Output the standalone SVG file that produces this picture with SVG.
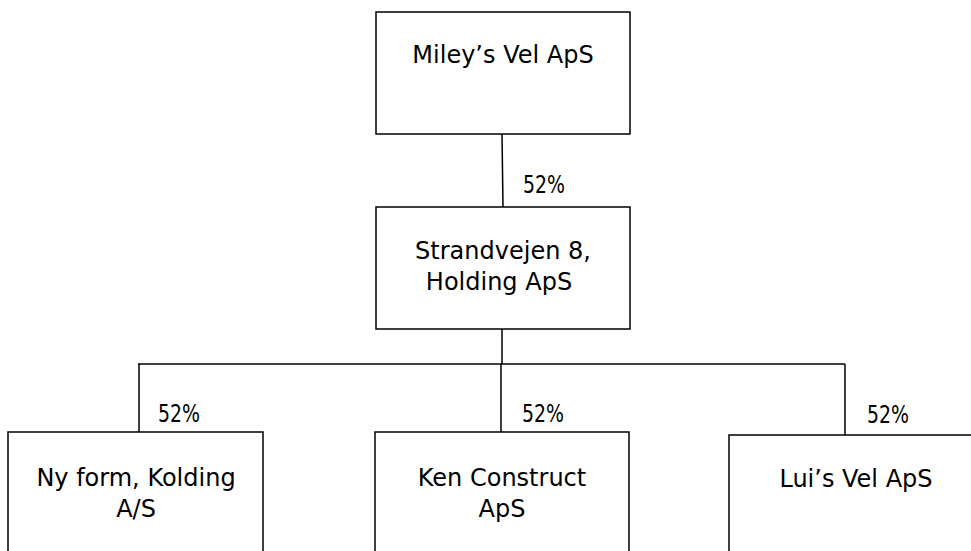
<svg xmlns="http://www.w3.org/2000/svg" width="971" height="551" viewBox="0 0 971 551">
<style>
.box{fill:#fff;stroke:#000;stroke-width:1.5}
.ln{fill:none;stroke:#000;stroke-width:1.5}
text{font-family:"DejaVu Sans","Liberation Sans",sans-serif;font-size:24px;fill:#000}
.c{text-anchor:middle}
</style>
<rect width="971" height="551" fill="#fff"/>
<g id="connectors">
<line class="ln" x1="502" y1="134" x2="503" y2="207"/>
<line class="ln" x1="502" y1="329" x2="502" y2="364"/>
<line class="ln" x1="138" y1="364" x2="845" y2="364"/>
<line class="ln" x1="139" y1="364" x2="139" y2="432"/>
<line class="ln" x1="501" y1="364" x2="501" y2="432"/>
<line class="ln" x1="845" y1="364" x2="845" y2="435"/>
<text x="523" y="193" textLength="42" lengthAdjust="spacingAndGlyphs">52%</text>
<text x="158" y="422" textLength="42" lengthAdjust="spacingAndGlyphs">52%</text>
<text x="522" y="422" textLength="42" lengthAdjust="spacingAndGlyphs">52%</text>
<text x="867" y="423" textLength="42" lengthAdjust="spacingAndGlyphs">52%</text>
</g>
<g id="miley">
<rect class="box" x="376" y="12" width="254" height="122"/>
<text class="c" x="503" y="63">Miley’s Vel ApS</text>
</g>
<g id="strandvejen">
<rect class="box" x="376" y="207" width="254" height="122"/>
<text class="c" x="503" y="259">Strandvejen 8,</text>
<text class="c" x="499" y="290">Holding ApS</text>
</g>
<g id="nyform">
<rect class="box" x="8" y="432" width="255" height="140"/>
<text class="c" x="136" y="486">Ny form, Kolding</text>
<text class="c" x="136" y="517">A/S</text>
</g>
<g id="ken">
<rect class="box" x="375" y="432" width="254" height="140"/>
<text class="c" x="502" y="486">Ken Construct</text>
<text class="c" x="502" y="517">ApS</text>
</g>
<g id="lui">
<rect class="box" x="729" y="435" width="260" height="140"/>
<text class="c" x="856" y="487">Lui’s Vel ApS</text>
</g>
</svg>
